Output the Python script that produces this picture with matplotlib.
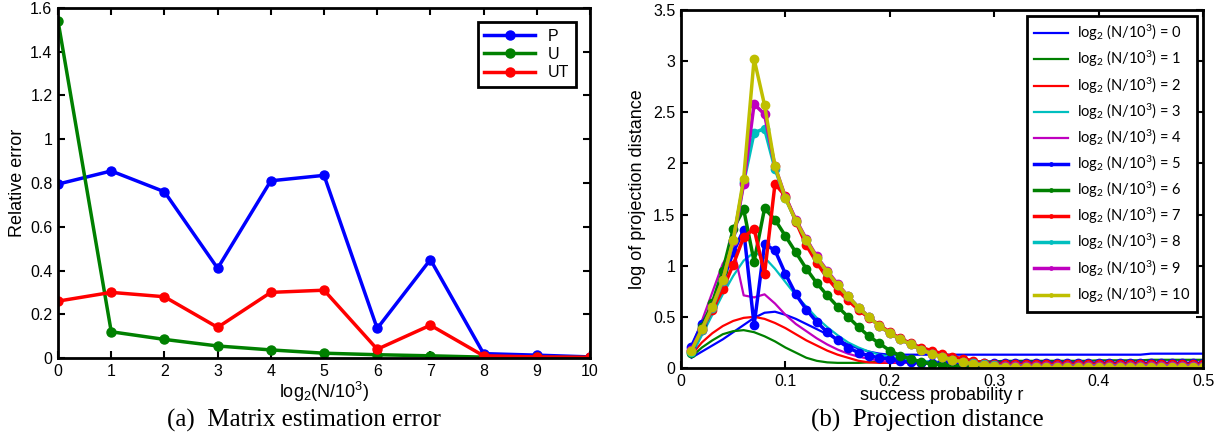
import numpy as np
import matplotlib
matplotlib.use('Agg')
import matplotlib.pyplot as plt

# ---- panel (a): matrix estimation error ----
log_n = [0, 1, 2, 3, 4, 5, 6, 7, 8, 9, 10]
err_p = [0.795, 0.855, 0.76, 0.41, 0.81, 0.835, 0.135, 0.45, 0.02, 0.013, 0.005]
err_u = [1.54, 0.12, 0.085, 0.055, 0.037, 0.022, 0.015, 0.01, 0.004, 0.003, 0.002]
err_ut = [0.26, 0.30, 0.28, 0.14, 0.30, 0.31, 0.04, 0.15, 0.01, 0.005, 0.003]

# ---- panel (b): projection distance vs success probability r ----
r = np.round(np.arange(1, 51) / 100, 2)

# thin lines, log2(N/10^3) = 0..4
dist_0 = [0.10, 0.16, 0.22, 0.28, 0.35, 0.42, 0.49, 0.54, 0.55, 0.52,
          0.48, 0.43, 0.38, 0.33, 0.28, 0.23, 0.19, 0.16, 0.14, 0.13,
          0.13, 0.13, 0.13, 0.13, 0.13, 0.13, 0.13, 0.13, 0.13, 0.13,
          0.13, 0.13, 0.13, 0.13, 0.13, 0.13, 0.13, 0.13, 0.13, 0.13,
          0.13, 0.13, 0.13, 0.13, 0.14, 0.14, 0.14, 0.14, 0.14, 0.14]
dist_1 = [0.11, 0.20, 0.27, 0.33, 0.36, 0.37, 0.35, 0.31, 0.26, 0.20,
          0.15, 0.10, 0.07, 0.055, 0.05, 0.05, 0.05, 0.055, 0.06, 0.06,
          0.06, 0.06, 0.06, 0.06, 0.06, 0.065, 0.065, 0.065, 0.065, 0.065,
          0.07, 0.07, 0.07, 0.07, 0.07, 0.07, 0.07, 0.07, 0.07, 0.075,
          0.075, 0.075, 0.075, 0.075, 0.08, 0.08, 0.08, 0.08, 0.08, 0.08]
dist_2 = [0.13, 0.25, 0.34, 0.41, 0.46, 0.49, 0.50, 0.48, 0.44, 0.39,
          0.33, 0.27, 0.22, 0.17, 0.13, 0.10, 0.07, 0.055, 0.05, 0.05,
          0.05, 0.05, 0.05, 0.05, 0.05, 0.05, 0.05, 0.05, 0.05, 0.05,
          0.05, 0.05, 0.05, 0.05, 0.05, 0.05, 0.05, 0.05, 0.05, 0.05,
          0.05, 0.05, 0.05, 0.05, 0.05, 0.05, 0.05, 0.05, 0.05, 0.05]
dist_3 = [0.12, 0.32, 0.52, 0.72, 0.90, 1.05, 1.13, 1.08, 0.97, 0.84,
          0.71, 0.60, 0.49, 0.40, 0.32, 0.25, 0.20, 0.16, 0.13, 0.11,
          0.09, 0.08, 0.07, 0.06, 0.05, 0.04, 0.04, 0.03, 0.03, 0.03,
          0.03, 0.03, 0.03, 0.03, 0.03, 0.03, 0.03, 0.03, 0.03, 0.03,
          0.03, 0.03, 0.03, 0.03, 0.03, 0.03, 0.03, 0.03, 0.03, 0.03]
dist_4 = [0.20, 0.46, 0.74, 1.02, 1.18, 0.71, 0.69, 0.72, 0.63, 0.52,
          0.43, 0.36, 0.29, 0.23, 0.18, 0.14, 0.11, 0.09, 0.07, 0.06,
          0.05, 0.05, 0.04, 0.04, 0.04, 0.04, 0.04, 0.04, 0.04, 0.04,
          0.04, 0.04, 0.04, 0.04, 0.04, 0.04, 0.04, 0.04, 0.04, 0.04,
          0.04, 0.04, 0.04, 0.04, 0.04, 0.04, 0.04, 0.04, 0.04, 0.04]

# marker lines, log2(N/10^3) = 5..10
dist_5 = [0.21, 0.43, 0.60, 0.85, 1.13, 1.35, 0.42, 1.21, 1.15, 0.92,
          0.72, 0.57, 0.45, 0.35, 0.27, 0.20, 0.15, 0.12, 0.10, 0.09,
          0.07, 0.06, 0.05, 0.045, 0.045, 0.045, 0.045, 0.045, 0.045, 0.045,
          0.045, 0.045, 0.045, 0.045, 0.045, 0.045, 0.045, 0.045, 0.045, 0.045,
          0.045, 0.045, 0.045, 0.045, 0.045, 0.045, 0.045, 0.045, 0.045, 0.045]
dist_6 = [0.15, 0.40, 0.64, 0.95, 1.36, 1.55, 1.04, 1.56, 1.45, 1.29,
          1.13, 0.97, 0.83, 0.71, 0.60, 0.50, 0.40, 0.31, 0.24, 0.17,
          0.12, 0.09, 0.06, 0.04, 0.03, 0.02, 0.02, 0.02, 0.02, 0.02,
          0.02, 0.02, 0.02, 0.02, 0.02, 0.02, 0.02, 0.02, 0.02, 0.02,
          0.02, 0.02, 0.02, 0.02, 0.02, 0.02, 0.02, 0.02, 0.02, 0.02]
dist_7 = [0.17, 0.37, 0.57, 0.77, 1.01, 1.28, 1.36, 0.92, 1.80, 1.68,
          1.43, 1.20, 1.03, 0.88, 0.76, 0.66, 0.57, 0.49, 0.42, 0.35,
          0.29, 0.24, 0.20, 0.17, 0.14, 0.11, 0.09, 0.07, 0.05, 0.04,
          0.035, 0.035, 0.035, 0.035, 0.035, 0.035, 0.035, 0.035, 0.035, 0.035,
          0.035, 0.035, 0.035, 0.035, 0.035, 0.035, 0.035, 0.035, 0.035, 0.035]
dist_8 = [0.16, 0.37, 0.59, 0.85, 1.24, 1.82, 2.30, 2.34, 1.95, 1.66,
          1.44, 1.25, 1.08, 0.94, 0.81, 0.70, 0.59, 0.50, 0.41, 0.34,
          0.28, 0.23, 0.18, 0.14, 0.11, 0.08, 0.06, 0.045, 0.035, 0.025,
          0.02, 0.02, 0.02, 0.02, 0.02, 0.02, 0.02, 0.02, 0.02, 0.02,
          0.02, 0.02, 0.02, 0.02, 0.02, 0.02, 0.02, 0.02, 0.02, 0.02]
dist_9 = [0.18, 0.38, 0.60, 0.86, 1.24, 1.80, 2.58, 2.48, 1.97, 1.67,
          1.45, 1.26, 1.09, 0.95, 0.82, 0.70, 0.59, 0.50, 0.41, 0.34,
          0.28, 0.23, 0.18, 0.14, 0.11, 0.08, 0.06, 0.04, 0.03, 0.02,
          0.015, 0.015, 0.015, 0.015, 0.015, 0.015, 0.015, 0.015, 0.015, 0.015,
          0.015, 0.015, 0.015, 0.015, 0.015, 0.015, 0.015, 0.015, 0.015, 0.015]
dist_10 = [0.17, 0.38, 0.60, 0.86, 1.25, 1.85, 3.02, 2.57, 1.97, 1.66,
           1.44, 1.25, 1.08, 0.94, 0.81, 0.70, 0.59, 0.50, 0.41, 0.34,
           0.28, 0.23, 0.18, 0.14, 0.11, 0.08, 0.06, 0.04, 0.03, 0.02,
           0.01, 0.005, 0.005, 0.005, 0.005, 0.005, 0.005, 0.005, 0.005, 0.005,
           0.005, 0.005, 0.005, 0.005, 0.005, 0.005, 0.005, 0.005, 0.005, 0.005]

thin_series = [dist_0, dist_1, dist_2, dist_3, dist_4]
marker_series = [dist_5, dist_6, dist_7, dist_8, dist_9, dist_10]

BLUE = (0, 0, 1)
GREEN = (0, 0.5, 0)
RED = (1, 0, 0)
CYAN = (0, 0.75, 0.75)
MAGENTA = (0.75, 0, 0.75)
YELLOW = (0.75, 0.75, 0)
COLORS = [BLUE, GREEN, RED, CYAN, MAGENTA, YELLOW]

plt.rcParams['font.family'] = ['Liberation Sans', 'DejaVu Sans']
plt.rcParams['mathtext.fontset'] = 'custom'
plt.rcParams['mathtext.rm'] = 'Liberation Sans'
plt.rcParams['mathtext.it'] = 'Liberation Sans'
plt.rcParams['mathtext.default'] = 'regular'


def style_axes(ax):
    ax.tick_params(direction='in', top=True, right=True, length=5, width=1.5,
                   labelsize=11.5, pad=4)
    for spine in ax.spines.values():
        spine.set_linewidth(2)


fig = plt.figure(figsize=(12.22, 4.34), dpi=100)

# left panel
ax_a = fig.add_axes([0.0475, 0.1751, 0.4353, 0.8065])
ax_a.plot(log_n, err_p, '.-', color=BLUE, lw=2.5, ms=13, label='P')
ax_a.plot(log_n, err_u, '.-', color=GREEN, lw=2.5, ms=13, label='U')
ax_a.plot(log_n, err_ut, '.-', color=RED, lw=2.5, ms=13, label='UT')
ax_a.set_xlim(0, 10)
ax_a.set_ylim(0, 1.6)
ax_a.set_xticks(range(11))
ax_a.set_yticks([0, 0.2, 0.4, 0.6, 0.8, 1, 1.2, 1.4, 1.6])
ax_a.set_yticklabels(['0', '0.2', '0.4', '0.6', '0.8', '1', '1.2', '1.4', '1.6'])
ax_a.set_xlabel('log$_2$(N/10$^3$)', fontsize=13, labelpad=1)
ax_a.set_ylabel('Relative error', fontsize=13, labelpad=3)
style_axes(ax_a)
leg_a = ax_a.legend(loc='upper right', fontsize=11.5, fancybox=False,
                    framealpha=1, edgecolor='black', handlelength=3.2,
                    borderaxespad=0.9, labelspacing=0.2)
leg_a.get_frame().set_linewidth(2)

# right panel
ax_b = fig.add_axes([0.5573, 0.1521, 0.4272, 0.825])
for i, vals in enumerate(thin_series):
    ax_b.plot(r, vals, '-', color=COLORS[i], lw=1.6,
              label='log$_2$ (N/10$^3$) = %d' % i)
for i, vals in enumerate(marker_series):
    ax_b.plot(r, vals, '.-', color=COLORS[i], lw=2.5, ms=12,
              label='log$_2$ (N/10$^3$) = %d' % (i + 5))
ax_b.set_xlim(0, 0.5)
ax_b.set_ylim(0, 3.5)
ax_b.set_xticks([0, 0.1, 0.2, 0.3, 0.4, 0.5])
ax_b.set_xticklabels(['0', '0.1', '0.2', '0.3', '0.4', '0.5'])
ax_b.set_yticks([0, 0.5, 1, 1.5, 2, 2.5, 3, 3.5])
ax_b.set_yticklabels(['0', '0.5', '1', '1.5', '2', '2.5', '3', '3.5'])
ax_b.set_xlabel('success probability r', fontsize=13, labelpad=-1)
ax_b.set_ylabel('log of projection distance', fontsize=13, labelpad=5)
style_axes(ax_b)
leg_b = ax_b.legend(loc='upper right', prop={'family': 'Lato', 'size': 10.5},
                    fancybox=False, framealpha=1, edgecolor='black',
                    handlelength=2.3, markerscale=0.4, labelspacing=0.4,
                    borderaxespad=0.4, borderpad=0.5, handletextpad=0.6)
leg_b.get_frame().set_linewidth(2)

# captions
fig.text(0.249, 0.032, '(a)  Matrix estimation error', ha='center',
         va='center', fontsize=18, family='Liberation Serif')
fig.text(0.759, 0.032, '(b)  Projection distance', ha='center',
         va='center', fontsize=18, family='Liberation Serif')

fig.savefig('out.png', dpi=100)
